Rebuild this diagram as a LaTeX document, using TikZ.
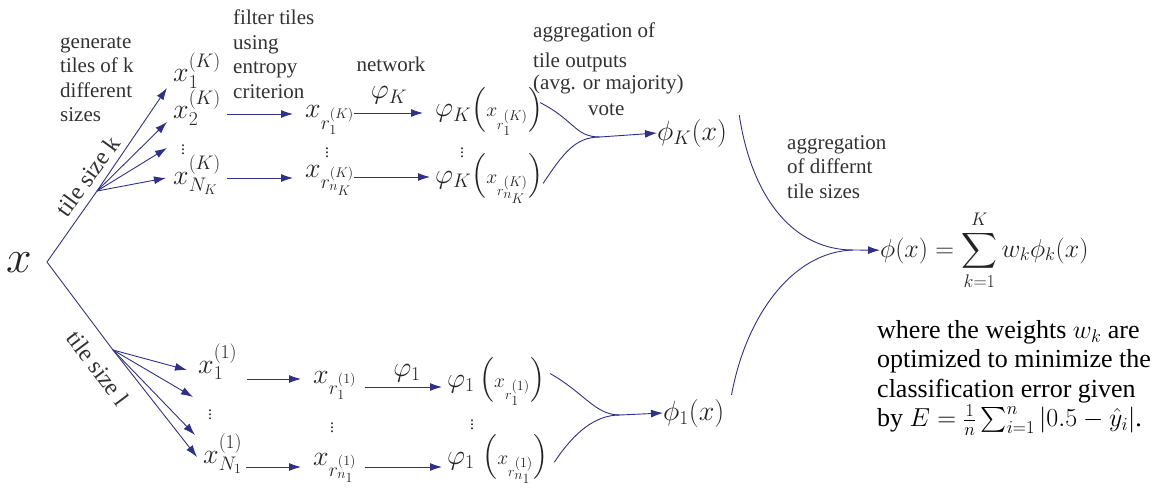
\RequirePackage{fix-cm}
\documentclass[tikz,border=0pt]{standalone}
\usepackage{amsmath}
\usepackage{fontspec}
\setmainfont{Liberation Serif}
\usetikzlibrary{arrows.meta,calc}
\definecolor{flow}{RGB}{48,48,140}
\definecolor{lab}{RGB}{50,50,50}
\definecolor{mtext}{RGB}{35,35,35}
\tikzset{
  flowline/.style={draw=flow, line width=0.9pt},
  flowarrow/.style={flowline, -{Latex[length=12pt,width=8pt]}},
  mathnode/.style={inner sep=0pt, anchor=base west, text=mtext, font=\fontsize{28}{32}\selectfont},
  dotsnode/.style={inner sep=0pt, text=mtext, font=\fontsize{16}{18}\selectfont},
  lbl/.style={inner sep=0pt, anchor=north west, text=lab, align=left, font=\fontsize{21}{24.5}\selectfont},
  rotlbl/.style={inner sep=0pt, text=lab, font=\fontsize{24}{26}\selectfont},
}
\begin{document}
\begin{tikzpicture}[x=1pt,y=-1pt]
\useasboundingbox (0,0) rectangle (1164,492);

% input
\node[mathnode, font=\fontsize{46}{50}\selectfont] (X) at (6,272) {$x$};
\coordinate (V) at (47,262);
\coordinate (BK) at (97,191);
\coordinate (B1) at (113,350);

% ---------- upper branch (tile size K)
\node[mathnode] (xK1) at (173,82) {$x_1^{(K)}$};
\node[mathnode] (xK2) at (173,119) {$x_2^{(K)}$};
\node[dotsnode] (dK) at (183,147) {$\vdots$};
\node[mathnode] (xKN) at (173,184) {$x_{N_K}^{(K)}$};

\node[mathnode] (xrK1) at (305,118) {$x_{r_1^{(K)}}$};
\node[dotsnode] (drK) at (327,150) {$\vdots$};
\node[mathnode] (xrKn) at (305,177) {$x_{r_{n_K}^{(K)}}$};

\node[mathnode] (pK1) at (435,117) {$\varphi_K\bigl({\scriptstyle x_{r_1^{(K)}}}\bigr)$};
\node[dotsnode] (dpK) at (462,150) {$\vdots$};
\node[mathnode] (pKn) at (435,183) {$\varphi_K\bigl({\scriptstyle x_{r_{n_K}^{(K)}}}\bigr)$};

\node[mathnode] (PK) at (657,140) {$\phi_K(x)$};

\draw[flowline] (V) -- (BK);
\draw[flowarrow] (BK) -- ($(xK1.base west)+(-6,6)$);
\draw[flowarrow] (BK) -- ($(xK2.base west)+(-6,3)$);
\draw[flowarrow] (BK) -- ($(dK.center)+(-16,1)$);
\draw[flowarrow] (BK) -- ($(xKN.base west)+(-7,-6)$);

\draw[flowarrow, shorten >=12pt] ($(xK2.base east)+(6,-5)$) coordinate (a1) -- (a1 -| xrK1.west);
\draw[flowarrow, shorten >=12pt] ($(xKN.base east)+(6,-6)$) coordinate (a2) -- (a2 -| xrKn.west);
\draw[flowarrow, shorten >=12pt] ($(xrK1.base east)+(0,-5)$) coordinate (a3) -- (a3 -| pK1.west);
\draw[flowarrow, shorten >=5pt] ($(xrKn.base east)+(0,0)$) coordinate (a4) -- (a4 -| pKn.west);

\coordinate (mK) at (600,137);
\draw[flowline] ($(pK1.east)+(-3,-9)$) .. controls +(35,18) and (575,137) .. (mK);
\draw[flowline] ($(pKn.east)+(0,5)$) .. controls +(20,-30) and (575,137) .. (mK);
\draw[flowarrow] (mK) -- (PK.west);

% ---------- lower branch (tile size 1)
\node[mathnode] (x11) at (198,373) {$x_1^{(1)}$};
\node[dotsnode] (d1) at (210,412) {$\vdots$};
\node[mathnode] (xN1) at (203,463) {$x_{N_1}^{(1)}$};

\node[mathnode] (xr11) at (313,383) {$x_{r_1^{(1)}}$};
\node[dotsnode] (dr1) at (332,425) {$\vdots$};
\node[mathnode] (xrn1) at (313,465) {$x_{r_{n_1}^{(1)}}$};

\node[mathnode] (p11) at (447,387) {$\varphi_1\,\bigl({\scriptstyle x_{r_1^{(1)}}}\bigr)$};
\node[dotsnode] (dp1) at (472,422) {$\vdots$};
\node[mathnode] (pn1) at (447,464) {$\varphi_1\;\bigl({\scriptstyle x_{r_{n_1}^{(1)}}}\bigr)$};

\node[mathnode] (P1) at (663,420) {$\phi_1(x)$};

\draw[flowline] (V) -- (B1);
\draw[flowarrow] (B1) -- ($(x11.base west)+(-11,-3)$);
\draw[flowarrow] (B1) -- ($(d1.center)+(-17,-15)$);
\draw[flowarrow] (B1) -- ($(d1.center)+(-15,23)$);
\draw[flowarrow] (B1) -- ($(xN1.base west)+(-6,-6)$);

\draw[flowarrow, shorten >=12pt] ($(x11.base east)+(10,6)$) coordinate (b1) -- (b1 -| xr11.west);
\draw[flowarrow, shorten >=12pt] ($(xN1.base east)+(4,4)$) coordinate (b2) -- (b2 -| xrn1.west);
\draw[flowarrow, shorten >=5pt] ($(xr11.base east)+(8,4)$) coordinate (b3) -- (b3 -| p11.west);
\draw[flowarrow, shorten >=5pt] ($(xrn1.base east)+(8,2)$) coordinate (b4) -- (b4 -| pn1.west);

\coordinate (m1) at (620,415);
\draw[flowline] ($(p11.east)+(5,-8)$) .. controls +(35,20) and (595,415) .. (m1);
\draw[flowline] ($(pn1.east)+(6,3)$) .. controls +(20,-30) and (595,415) .. (m1);
\draw[flowarrow] (m1) -- (P1.west);

% ---------- final aggregation
\node[mathnode, font=\fontsize{26}{30}\selectfont] (F) at (880,257) {$\displaystyle \phi(x)=\sum_{k=1}^{K} w_k\phi_k(x)$};
\coordinate (mF) at (853,250);
\draw[flowline] ($(PK.east)+(12,-18)$) .. controls (752,200) and (795,250) .. (mF);
\draw[flowline] ($(P1.east)+(7,-18)$) .. controls (745,320) and (790,252) .. (mF);
\draw[flowarrow] (mF) -- (F.west);

% ---------- labels
\node[lbl] (lgen) at (60,36) {generate\\tiles of k\\different\\sizes};
\node[lbl] (lfil) at (233,10) {filter tiles\\using\\entropy\\criterion};
\node[lbl, anchor=base] (lnet) at (391,72) {network};
\node[mathnode, anchor=base] (lphiK) at (389,99) {$\varphi_K$};
\node[lbl] (lagg) at (533,23) {aggregation of\\[5pt]tile outputs\\[-2pt](avg. or majority)\\[1pt]\hspace*{55pt}vote};
\node[lbl] (ldif) at (787,135) {aggregation\\of differnt\\tile sizes};
\node[mathnode, anchor=base] (lphi1) at (407,376) {$\varphi_1$};

\node[rotlbl, rotate=54] (tK) at (88,176) {tile size k};
\node[rotlbl, rotate=-53] (t1) at (98,368) {tile size l};

\node[inner sep=0pt, anchor=north west, align=left, text=black, font=\fontsize{26}{29.5}\selectfont] (note) at (877,320)
  {where the weights $w_k$ are\\optimized to minimize the\\classification error given\\[0pt]by $E=\frac{1}{n}\sum_{i=1}^{n}|0.5-\hat{y}_i|$.};
\end{tikzpicture}
\end{document}
